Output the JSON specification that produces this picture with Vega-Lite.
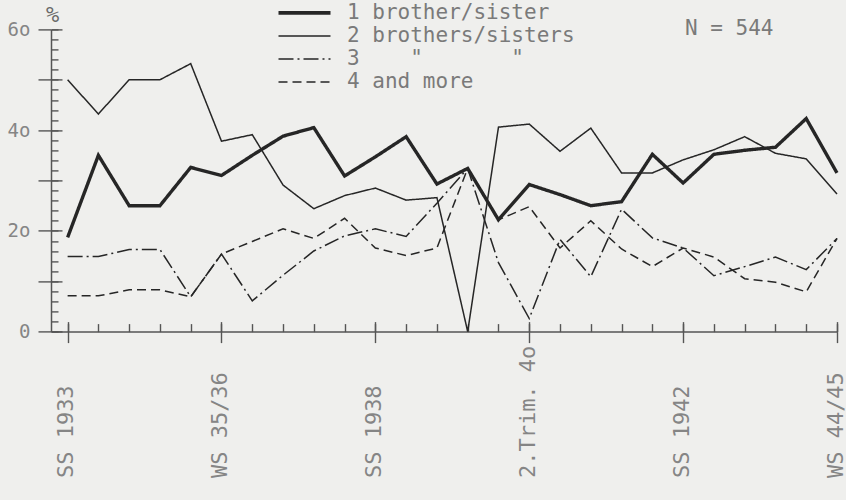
{
  "$schema": "https://vega.github.io/schema/vega-lite/v6.json",
  "width": 786,
  "height": 302.2,
  "autosize": {"type": "none"},
  "padding": {"left": 51, "top": 29.4, "right": 9, "bottom": 168.4},
  "background": "#efefed",
  "config": {
    "view": {"stroke": null},
    "font": "DejaVu Sans Mono",
    "axis": {"grid": false, "domainColor": "#555", "tickColor": "#555", "domainWidth": 1.5, "tickWidth": 1.4, "labelColor": "#858585", "labelFont": "DejaVu Sans Mono"}
  },
  "title": {
    "text": "N = 544",
    "anchor": "start",
    "frame": "group",
    "orient": "top",
    "offset": -30,
    "dx": 634,
    "dy": 24,
    "font": "DejaVu Sans Mono",
    "fontSize": 21,
    "fontWeight": "normal",
    "color": "#7a7a7a",
    "baseline": "alphabetic"
  },
  "data": {
    "values": [
      {"t": 0, "a": 18.7, "b": 50.0, "c": 14.9, "d": 7.1},
      {"t": 1, "a": 35.0, "b": 43.2, "c": 14.9, "d": 7.1},
      {"t": 2, "a": 25.0, "b": 50.0, "c": 16.3, "d": 8.3},
      {"t": 3, "a": 25.0, "b": 50.0, "c": 16.3, "d": 8.3},
      {"t": 4, "a": 32.6, "b": 53.2, "c": 6.9, "d": 6.9},
      {"t": 5, "a": 31.0, "b": 37.8, "c": 15.4, "d": 15.4},
      {"t": 6, "a": 35.0, "b": 39.1, "c": 6.1, "d": 17.9},
      {"t": 7, "a": 38.8, "b": 29.1, "c": 11.2, "d": 20.4},
      {"t": 8, "a": 40.5, "b": 24.4, "c": 16.0, "d": 18.5},
      {"t": 9, "a": 30.9, "b": 27.0, "c": 19.0, "d": 22.5},
      {"t": 10, "a": 34.7, "b": 28.5, "c": 20.4, "d": 16.6},
      {"t": 11, "a": 38.7, "b": 26.1, "c": 18.9, "d": 15.1},
      {"t": 12, "a": 29.3, "b": 26.6, "c": 25.5, "d": 16.6},
      {"t": 13, "a": 32.4, "b": 0.0, "c": 32.4, "d": 32.4},
      {"t": 14, "a": 22.2, "b": 40.6, "c": 13.7, "d": 22.2},
      {"t": 15, "a": 29.2, "b": 41.2, "c": 2.6, "d": 24.8},
      {"t": 16, "a": 27.2, "b": 35.8, "c": 18.3, "d": 16.6},
      {"t": 17, "a": 25.0, "b": 40.4, "c": 10.9, "d": 22.0},
      {"t": 18, "a": 25.8, "b": 31.5, "c": 24.3, "d": 16.4},
      {"t": 19, "a": 35.2, "b": 31.5, "c": 18.6, "d": 12.9},
      {"t": 20, "a": 29.5, "b": 34.1, "c": 16.6, "d": 16.6},
      {"t": 21, "a": 35.2, "b": 36.1, "c": 11.1, "d": 14.8},
      {"t": 22, "a": 36.0, "b": 38.7, "c": 12.9, "d": 10.5},
      {"t": 23, "a": 36.6, "b": 35.4, "c": 14.8, "d": 9.8},
      {"t": 24, "a": 42.3, "b": 34.3, "c": 12.3, "d": 7.9},
      {"t": 25, "a": 31.5, "b": 27.3, "c": 18.5, "d": 18.5}
    ]
  },
  "transform": [{"fold": ["a", "b", "c", "d"], "as": ["s", "pct"]}],
  "layer": [
    {
      "mark": {"type": "line", "color": "#262626", "strokeJoin": "miter", "strokeCap": "butt"},
      "encoding": {
        "x": {
          "field": "t", "type": "quantitative",
          "scale": {"domain": [-0.54, 25], "nice": false, "zero": false},
          "axis": {
            "orient": "bottom", "title": null, "values": [0, 5, 10, 15, 20, 25],
            "tickSize": 11, "labelAngle": 270, "labelAlign": "left", "labelBaseline": "middle",
            "labelPadding": 135, "labelFontSize": 22, "labelOffset": -2, "labelFlush": false, "labelBound": false, "labelOverlap": false, "labelLimit": 0,
            "labelExpr": "datum.value == 0 ? 'SS 1933' : datum.value == 5 ? 'WS 35/36' : datum.value == 10 ? 'SS 1938' : datum.value == 15 ? '2.Trim. 4o' : datum.value == 20 ? 'SS 1942' : 'WS 44/45'"
          }
        },
        "y": {
          "field": "pct", "type": "quantitative",
          "scale": {"domain": [0, 60], "nice": false},
          "axis": {
            "orient": "left", "values": [0, 10, 20, 30, 40, 50, 60], "tickSize": 13,
            "labelPadding": 8, "labelFontSize": 19,
            "labelExpr": "datum.value == 0 ? '0' : (datum.value % 20 == 0 ? (datum.value / 10) + 'o' : '')",
            "title": "%", "titleAngle": 0, "titleX": 1, "titleY": -8, "titleAlign": "center", "titleBaseline": "alphabetic",
            "titleFont": "DejaVu Sans Mono", "titleFontSize": 22, "titleFontWeight": "normal", "titleColor": "#6a6a6a"
          }
        },
        "strokeDash": {
          "field": "s", "type": "nominal",
          "scale": {"domain": ["a", "b", "c", "d"], "range": [[1, 0], [1, 0], [15, 4, 2, 4], [9, 5]]},
          "legend": {
            "orient": "none", "legendX": 243, "legendY": -27, "title": null, "padding": 0,
            "symbolType": "stroke", "symbolSize": 2704, "symbolStrokeColor": "#262626", "symbolStrokeWidth": 1.5,
            "labelFont": "DejaVu Sans Mono", "labelFontSize": 21, "labelColor": "#7a7a7a", "labelOffset": 32, "rowPadding": 1, "labelLimit": 0,
            "labelExpr": "datum.value == 'a' ? '1 brother/sister' : datum.value == 'b' ? '2 brothers/sisters' : datum.value == 'c' ? '3\u00a0\u00a0\u00a0\u00a0\"\u00a0\u00a0\u00a0\u00a0\u00a0\u00a0\u00a0\"' : '4 and more'",
            "encode": {"symbols": {"update": {"strokeWidth": {"signal": "datum.value == 'a' ? 3.6 : 1.5"}}}}
          }
        },
        "strokeWidth": {"condition": {"test": "datum.s == 'a'", "value": 3.4}, "value": 1.5}
      }
    },
    {
      "mark": {"type": "line", "opacity": 0},
      "encoding": {
        "x": {"field": "t", "type": "quantitative", "axis": {"orient": "bottom", "title": null, "values": [0, 5, 10, 15, 20, 25], "tickSize": -10, "labels": false, "domain": false}},
        "y": {"field": "pct", "type": "quantitative", "axis": {"orient": "left", "title": null, "values": [0, 10, 20, 30, 40, 50, 60], "tickSize": -11, "labels": false, "domain": false}},
        "detail": {"field": "s"}
      }
    },
    {
      "mark": {"type": "line", "opacity": 0},
      "encoding": {
        "x": {"field": "t", "type": "quantitative", "axis": {"orient": "bottom", "title": null, "values": [0, 1, 2, 3, 4, 5, 6, 7, 8, 9, 10, 11, 12, 13, 14, 15, 16, 17, 18, 19, 20, 21, 22, 23, 24, 25], "tickSize": -8, "labels": false, "domain": false}},
        "y": {"field": "pct", "type": "quantitative", "axis": {"orient": "left", "title": null, "values": [0, 2, 4, 6, 8, 10, 12, 14, 16, 18, 20, 22, 24, 26, 28, 30, 32, 34, 36, 38, 40, 42, 44, 46, 48, 50, 52, 54, 56, 58, 60], "tickSize": -7, "labels": false, "domain": false}},
        "detail": {"field": "s"}
      }
    }
  ],
  "resolve": {"axis": {"x": "independent", "y": "independent"}}
}
